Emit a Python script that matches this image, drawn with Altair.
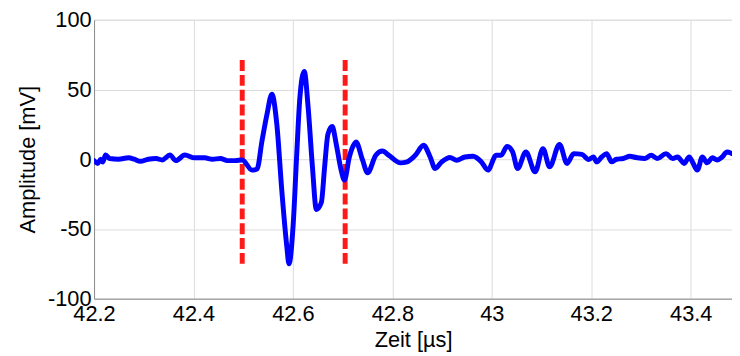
import altair as alt
import pandas as pd

# Signal: time [µs] and amplitude [mV]
time_us = [
    42.200, 42.2074, 42.2133, 42.2173, 42.2233, 42.2312, 42.2492, 42.2691, 42.2810, 42.2929,
    42.3089, 42.3248, 42.3371, 42.3526, 42.3646, 42.3825, 42.4024, 42.4223, 42.4382, 42.4541,
    42.4681, 42.4840, 42.4979,
    42.5178, 42.5278, 42.5377, 42.5477, 42.5576, 42.5676, 42.5775, 42.5875, 42.5920, 42.6008,
    42.6074, 42.6139, 42.6227, 42.6306, 42.6392, 42.6471, 42.6571, 42.6637, 42.6704, 42.6790,
    42.6870, 42.6969, 42.7035, 42.7134, 42.7234, 42.7268,
    42.7401, 42.7501, 42.7666, 42.7799, 42.7930, 42.8163, 42.8297, 42.8462, 42.8627, 42.8760,
    42.8860, 42.8993, 42.9158, 42.9292, 42.9457, 42.9622,
    42.9789, 42.9920, 43.0088, 43.0187, 43.0306, 43.0418, 43.0517, 43.0685, 43.0870, 43.1029,
    43.1162, 43.1361, 43.1512, 43.1646, 43.1811, 43.1944, 43.2044, 43.2109, 43.2209,
    43.2309, 43.2408, 43.2508, 43.2641, 43.2774, 43.2905, 43.3073, 43.3204, 43.3327, 43.3502,
    43.3636, 43.3735, 43.3869, 43.3968, 43.4034, 43.4133, 43.4233, 43.4332, 43.4432, 43.4531,
    43.4631, 43.4730, 43.4829,
]
amplitude_mv = [
    -1, -3, 0, -2, 3, 0.5, 0, 1, 0, -1.5,
    0, 0.5, -0.5, 3, -1, 3, 1, 1, 0, 0.5,
    -1, -1, -0.5,
    -7.8, -7, 13, 32, 46.6, 25, -22, -62, -75, -45,
    2, 44, 63, 37, -5.5, -36, -31, -5.5, 18, 23.4,
    11, -7.8, -15, 1.6, 11, 12.3,
    -0.7, -9.7, 2.8, 5.9, 2.8, -2.6, -1.9, 2.8, 10, 1.6,
    -6.6, -1.9, 1.2, -0.7, 1.6, 2.1,
    -1.9, -7.8, 2.8, 2.8, 9.2, 5.2, -6.6, 5.2, -9, 7.6,
    -5.5, 10.6, -3, 4, 3.5, -0.2, 1.6, -1.9, 1.6,
    4, -1.9, 0, 0.5, 2.1, 1.2, 0.5, 2.8, 0.5, 4,
    0.5, 1.6, -3, 1.6, -1.9, -7.8, 1.6, -2.6, 1, -0.5,
    1.6, 5.2, 4,
]

# Red dashed window markers
marker_time = [42.498, 42.705]
marker_low = [-75, -75]
marker_high = [72, 72]

x_ticks = [42.2, 42.4, 42.6, 42.8, 43.0, 43.2, 43.4]
y_ticks = [-100, -50, 0, 50, 100]

sig = pd.DataFrame({"t": time_us, "a": amplitude_mv})
mk = pd.DataFrame({"t": marker_time, "lo": marker_low, "hi": marker_high})

FONT = "Liberation Sans"

x_scale = alt.Scale(domain=[42.2, 43.483], nice=False, zero=False)
y_scale = alt.Scale(domain=[-100, 100], nice=False)

x_axis = alt.Axis(
    title="Zeit [µs]", values=x_ticks, labelExpr="'' + datum.value", grid=True,
    labelFont=FONT, labelFontSize=22, labelColor="black", labelPadding=5,
    titleFont=FONT, titleFontSize=22, titleFontWeight="normal", titleColor="black",
    titlePadding=5, ticks=False, domainColor="#8c8c8c", gridColor="#dcdcdc",
    labelFlush=False, labelOverlap=False,
)
y_axis = alt.Axis(
    title="Amplitude [mV]", values=y_ticks, labelExpr="'' + datum.value", grid=True,
    labelFont=FONT, labelFontSize=22, labelColor="black", labelPadding=3,
    titleFont=FONT, titleFontSize=22, titleFontWeight="normal", titleColor="black",
    titlePadding=8, ticks=False, domainColor="#8c8c8c", gridColor="#dcdcdc",
    labelFlush=False, labelOverlap=False,
)

line = alt.Chart(sig).mark_line(
    color="#0000ff", strokeWidth=5, interpolate="monotone", clip=True,
    strokeJoin="round", strokeCap="round"
).encode(
    x=alt.X("t:Q", scale=x_scale, axis=x_axis),
    y=alt.Y("a:Q", scale=y_scale, axis=y_axis),
)

markers = alt.Chart(mk).mark_rule(
    color="#ff1a1a", strokeWidth=5, strokeDash=[11, 4]
).encode(
    x=alt.X("t:Q", scale=x_scale),
    y=alt.Y("lo:Q", scale=y_scale),
    y2="hi:Q",
)

chart = alt.layer(markers, line).properties(
    width=645, height=282,
    autosize=alt.AutoSizeParams(type="none"),
    padding={"left": 87, "top": 10, "right": 0, "bottom": 52},
).configure_view(
    stroke="#8c8c8c", strokeWidth=1
).configure(background="white")

chart.save("out.html", embed_options={"renderer": "svg", "actions": False})
